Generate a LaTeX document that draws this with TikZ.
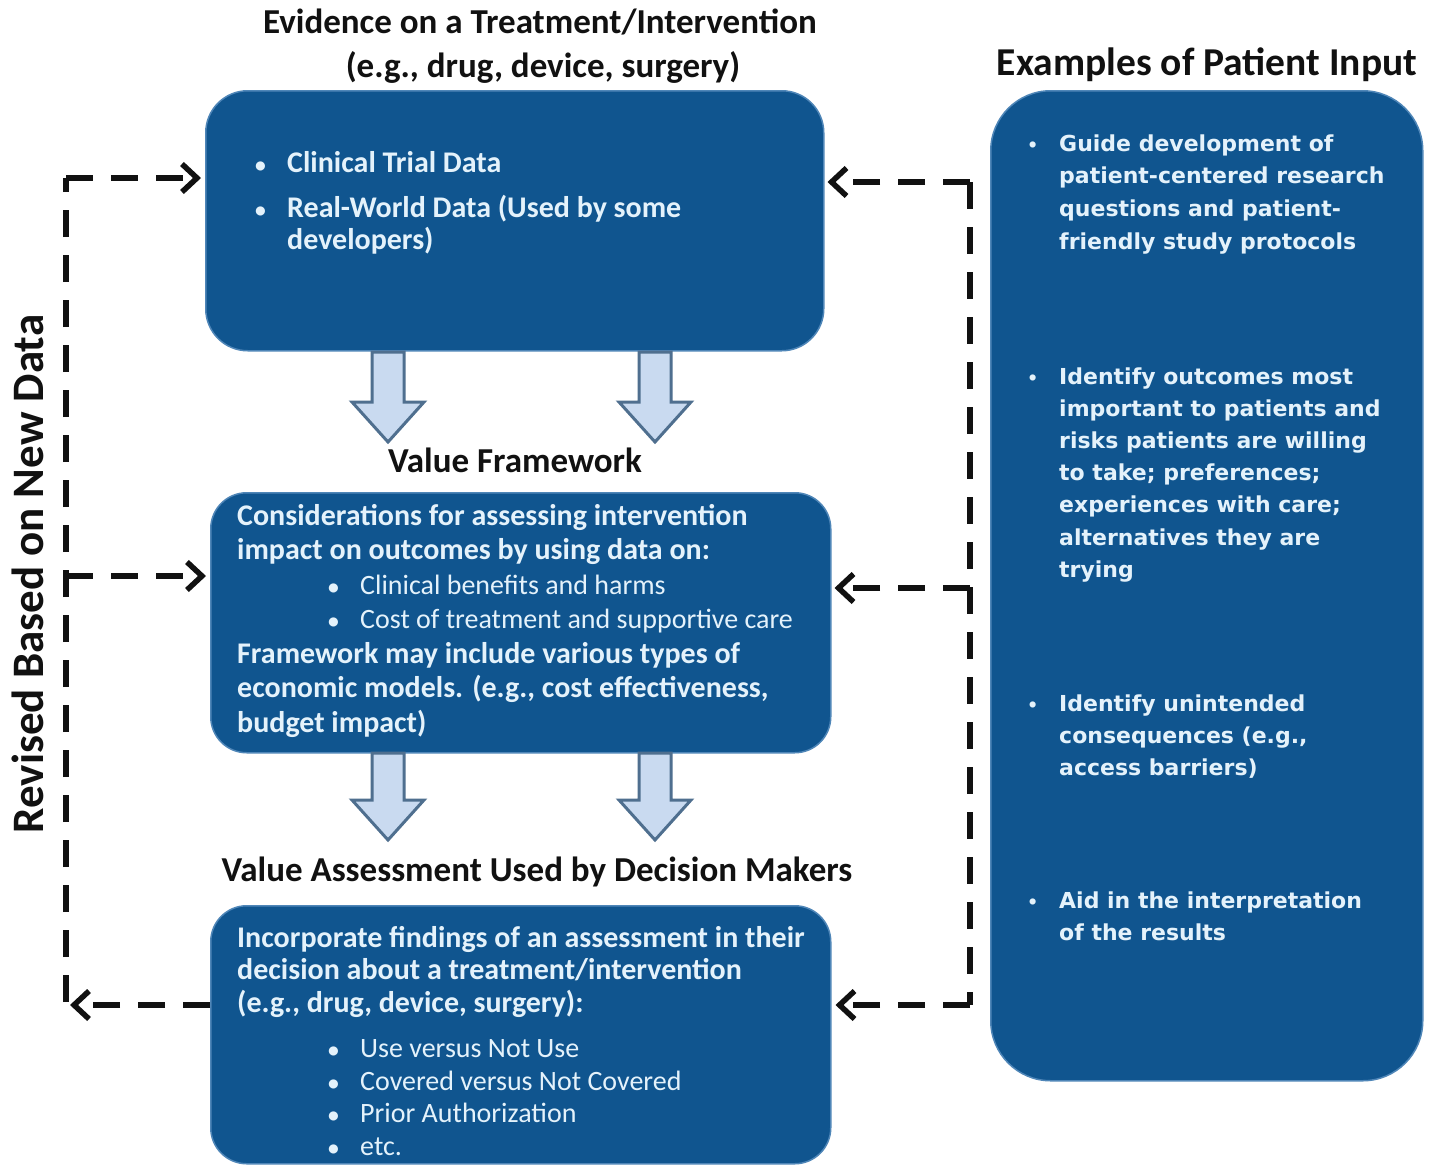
\documentclass[tikz,border=0pt]{standalone}
\usepackage{fontspec}
\setmainfont{Carlito}
\newfontfamily\rfont{DejaVu Sans}
\usetikzlibrary{arrows.meta}
\definecolor{boxblue}{HTML}{10558F}
\definecolor{boxedge}{HTML}{4F86B8}
\definecolor{boxtxt}{HTML}{E4F2FB}
\definecolor{arrfill}{HTML}{C9DAF0}
\definecolor{arrdraw}{HTML}{4F6F8F}
\definecolor{ink}{HTML}{111111}
\newcommand\bl{\makebox[34pt][l]{\hspace*{2pt}\scalebox{0.72}{\textbullet}}}
\newcommand\blr{\makebox[32pt][l]{\scalebox{0.8}{\textbullet}}}
\newcommand\ind{\hspace*{34pt}}
\newcommand\blockarr[3]{%
  \filldraw[blockstyle] (#1-16,#2) -- (#1+16,#2) -- (#1+16,#3-40) -- (#1+36,#3-40)
    -- (#1,#3) -- (#1-36,#3-40) -- (#1-16,#3-40) -- cycle;}
\tikzset{
  bluebox/.style={fill=boxblue, draw=boxedge, line width=1.5pt, rounded corners=#1,
    inner sep=0pt, anchor=north west},
  bluebox/.default=38pt,
  boxtext/.style={text=boxtxt, inner sep=0pt, anchor=base west, font=\bfseries},
  titletext/.style={text=ink, inner sep=0pt, anchor=base, font=\bfseries},
  dashline/.style={draw=ink, line width=5.5pt, dash pattern=on 27pt off 18pt},
  barb/.style={-{Straight Barb[length=15pt,width=28pt,line width=5.5pt]}},
  blockstyle/.style={fill=arrfill, draw=arrdraw, line width=3pt, line join=miter},
}
\begin{document}
\begin{tikzpicture}[x=1pt,y=-1pt]
\useasboundingbox (0,0) rectangle (1433,1165);
\fill[white] (0,0) rectangle (1433,1165);

% boxes
\node[bluebox=42pt, minimum width=618pt, minimum height=260pt] (top) at (205,90) {};
\node[bluebox=36pt, minimum width=620pt, minimum height=260pt] (mid) at (210,492) {};
\node[bluebox=36pt, minimum width=620pt, minimum height=258pt] (bot) at (210,905) {};
\node[bluebox=60pt, minimum width=432pt, minimum height=990pt] (right) at (990,90) {};

% titles
\node[titletext] (t1) at (540,33) {\fontsize{35}{35}\selectfont Evidence on a Treatment/Intervention};
\node[titletext] (t2) at (543,77) {\fontsize{35}{35}\selectfont (e.g., drug, device, surgery)};
\node[titletext] (t3) at (1207,75) {\fontsize{39.5}{39.5}\selectfont Examples of Patient Input};
\node[titletext] (t4) at (515,472) {\fontsize{35}{35}\selectfont Value Framework};
\node[titletext] (t5) at (537,881) {\fontsize{35}{35}\selectfont Value Assessment Used by Decision Makers};
\node[text=ink, inner sep=0pt, rotate=90, font=\bfseries] (rev) at (28,574)
  {\fontsize{45}{45}\selectfont Revised Based on New Data};

% top box text
\node[boxtext] (topt) at (253,172) {\parbox[t]{560pt}{\raggedright\fontsize{30}{32}\selectfont
  \bl Clinical Trial Data\\[13pt]
  \bl Real-World Data (Used by some\\
  \ind developers)}};

% middle box text
\node[boxtext] (midt) at (237,525) {\parbox[t]{600pt}{\raggedright\fontsize{30}{34.5}\selectfont
  Considerations for assessing intervention\\
  impact on outcomes by using data on:\\
  \hspace*{89pt}\bl{\mdseries\fontsize{28}{34.5}\selectfont Clinical benefits and harms}\\
  \hspace*{89pt}\bl{\mdseries\fontsize{28}{34.5}\selectfont Cost of treatment and supportive care}\\
  Framework may include various types of\\
  economic models. (e.g., cost effectiveness,\\
  budget impact)}};

% bottom box text
\node[boxtext] (bott) at (237,947) {\parbox[t]{600pt}{\raggedright\fontsize{30}{32.5}\selectfont
  Incorporate findings of an assessment in their\\
  decision about a treatment/intervention\\
  (e.g., drug, device, surgery):\\[13pt]
  \hspace*{89pt}\bl{\mdseries\fontsize{28}{32.5}\selectfont Use versus Not Use}\\
  \hspace*{89pt}\bl{\mdseries\fontsize{28}{32.5}\selectfont Covered versus Not Covered}\\
  \hspace*{89pt}\bl{\mdseries\fontsize{28}{32.5}\selectfont Prior Authorization}\\
  \hspace*{89pt}\bl{\mdseries\fontsize{28}{32.5}\selectfont etc.}}};

% right box text
\node[boxtext] (r1) at (1027,151) {\parbox[t]{395pt}{\raggedright\rfont\fontsize{22}{32.7}\selectfont
  \blr Guide development of\\
  \hspace*{32pt}patient-centered research\\
  \hspace*{32pt}questions and patient-\\
  \hspace*{32pt}friendly study protocols}};
\node[boxtext] (r2) at (1027,384) {\parbox[t]{395pt}{\raggedright\rfont\fontsize{22}{32.2}\selectfont
  \blr Identify outcomes most\\
  \hspace*{32pt}important to patients and\\
  \hspace*{32pt}risks patients are willing\\
  \hspace*{32pt}to take; preferences;\\
  \hspace*{32pt}experiences with care;\\
  \hspace*{32pt}alternatives they are\\
  \hspace*{32pt}trying}};
\node[boxtext] (r3) at (1027,711) {\parbox[t]{395pt}{\raggedright\rfont\fontsize{22}{32}\selectfont
  \blr Identify unintended\\
  \hspace*{32pt}consequences (e.g.,\\
  \hspace*{32pt}access barriers)}};
\node[boxtext] (r4) at (1027,908) {\parbox[t]{395pt}{\raggedright\rfont\fontsize{22}{32}\selectfont
  \blr Aid in the interpretation\\
  \hspace*{32pt}of the results}};

% block arrows
\blockarr{388}{352}{442}
\blockarr{655}{352}{442}
\blockarr{388}{753}{840}
\blockarr{655}{753}{840}

% left feedback loop
\coordinate (L1) at (66,178);
\coordinate (L2) at (66,576);
\coordinate (L3) at (66,1005);
\coordinate (L3t) at (70,1005);
\draw[dashline] (L3) ++(0,-3) -- (L1);
\draw[dashline, barb] (L1) -- ([xshift=-4pt]top.west |- L1);
\draw[dashline, barb] (L2) -- ([xshift=-4pt]mid.west |- L2);
\draw[dashline, barb] (bot.west |- L3) -- (L3t);

% right feedback loop
\coordinate (R1) at (970,182);
\coordinate (R2) at (970,588);
\coordinate (R3) at (970,1005);
\draw[dashline] (R1) -- (R3);
\draw[dashline, barb] (R1) -- ([xshift=3pt]top.east |- R1);
\draw[dashline, barb] (R2) -- ([xshift=3pt]mid.east |- R2);
\draw[dashline, barb] (R3) -- ([xshift=4pt]bot.east |- R3);
\end{tikzpicture}
\end{document}
